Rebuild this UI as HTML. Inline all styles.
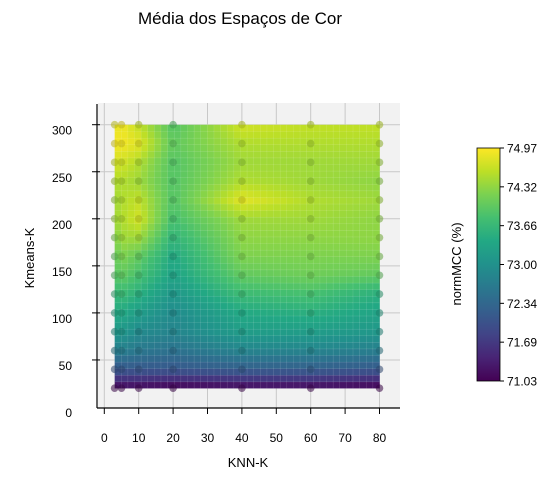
<!DOCTYPE html>
<html><head><meta charset="utf-8"><style>
html,body{margin:0;padding:0;background:#fff;}
svg{display:block;font-family:"Liberation Sans",sans-serif;}
</style></head><body>
<svg id="chart" width="558" height="504" viewBox="0 0 558 504">
<defs>
<linearGradient id="cbgrad" x1="0" y1="1" x2="0" y2="0">
<stop offset="0" stop-color="#440154"/><stop offset="0.1" stop-color="#482475"/><stop offset="0.2" stop-color="#414487"/><stop offset="0.3" stop-color="#355f8d"/><stop offset="0.4" stop-color="#2a788e"/><stop offset="0.5" stop-color="#21918c"/><stop offset="0.6" stop-color="#22a884"/><stop offset="0.7" stop-color="#44bf70"/><stop offset="0.8" stop-color="#7ad151"/><stop offset="0.9" stop-color="#bddf26"/><stop offset="1" stop-color="#fde725"/>
</linearGradient>
</defs>
<text x="240" y="24" text-anchor="middle" font-size="17">Média dos Espaços de Cor</text>
<rect x="98" y="103" width="302" height="305" fill="#f2f2f2"/>
<g id="grid"></g>
<g id="surface"></g>
<g id="points"></g>
<g id="axes"></g>
<text x="248" y="467" text-anchor="middle" font-size="13">KNN-K</text>
<text x="34" y="258" text-anchor="middle" font-size="13" transform="rotate(-90 34 258)">Kmeans-K</text>
<rect x="477" y="148" width="23" height="233" fill="url(#cbgrad)" stroke="#000" stroke-width="0.8"/>
<g id="cbticks"></g>
<text x="461" y="264" text-anchor="middle" font-size="13" transform="rotate(-90 461 264)">normMCC (%)</text>
</svg>
<script>
const knnK = [3,5,10,20,40,60,80];
const kmeansK = [300,280,260,240,220,200,180,160,140,120,100,80,60,40,20];
const mccValues = [
[74.8,74.9,74.6,73.9,74.7,74.6,74.6],
[74.9,74.9,74.8,74.0,74.5,74.5,74.5],
[74.7,74.7,74.5,73.9,74.4,74.4,74.4],
[74.5,74.5,74.4,73.9,74.5,74.4,74.3],
[74.4,74.5,74.6,73.9,74.8,74.5,74.4],
[74.4,74.5,74.7,73.8,74.4,74.4,74.3],
[74.2,74.4,74.4,73.6,74.3,74.3,74.3],
[74.0,74.2,74.0,73.4,74.2,74.2,74.2],
[73.9,74.0,73.8,73.3,74.0,74.1,74.0],
[73.6,73.7,73.5,73.1,73.7,73.8,73.5],
[73.4,73.4,73.2,72.9,73.4,73.5,73.3],
[73.1,73.1,72.9,72.8,73.2,73.2,73.1],
[72.7,72.7,72.6,72.5,72.8,72.8,72.7],
[72.1,72.1,72.1,72.1,72.2,72.2,72.1],
[71.1,71.1,71.1,71.0,71.1,71.1,71.0]];
const xTicks = [0,10,20,30,40,50,60,70,80];
const yTicks = [0,50,100,150,200,250,300];
const cbTicks = ["71.03","71.69","72.34","73.00","73.66","74.32","74.97"];
const vmin = 71.03, vmax = 74.97;

const NS="http://www.w3.org/2000/svg";
const X = v => 104.3 + v*3.44;
const Y = v => 407 - v*0.941;
const VIR = [[68,1,84],[72,36,117],[65,68,135],[53,95,141],[42,120,142],[33,145,140],[34,168,132],[68,191,112],[122,209,81],[189,223,38],[253,231,37]];
function vir(t){t=Math.max(0,Math.min(1,t))*10;const i=Math.min(9,Math.floor(t)),f=t-i;const a=VIR[i],b=VIR[i+1];return [0,1,2].map(k=>Math.round(a[k]+(b[k]-a[k])*f));}
function mk(tag,attrs,parent){const e=document.createElementNS(NS,tag);for(const k in attrs)e.setAttribute(k,attrs[k]);parent.appendChild(e);return e;}
const grid=document.getElementById('grid'),surf=document.getElementById('surface'),pts=document.getElementById('points'),axes=document.getElementById('axes'),cbt=document.getElementById('cbticks');

xTicks.forEach(t=>{
  const l=mk('line',{x1:X(t),x2:X(t),y1:103,y2:408,stroke:'#c8c8c8','stroke-width':1},grid);
  
  const tk=mk('line',{x1:X(t),x2:X(t),y1:408,y2:414,stroke:'#000','stroke-width':1},axes);
  
  const tx=mk('text',{x:X(t),y:442,'text-anchor':'middle','font-size':12},axes);tx.textContent=t;
  
});
yTicks.forEach(t=>{
  if(t>0){const l=mk('line',{x1:98,x2:400,y1:Y(t),y2:Y(t),stroke:'#c8c8c8','stroke-width':1},grid);
  
  const tk=mk('line',{x1:92,x2:100,y1:Y(t),y2:Y(t),stroke:'#000','stroke-width':1},axes);
  }
  const tx=mk('text',{x:72,y:Y(t)+10,'text-anchor':'end','font-size':12},axes);tx.textContent=t;
  
});
mk('line',{x1:97,x2:97,y1:104,y2:408,stroke:'#000','stroke-width':1.2},axes);
mk('line',{x1:97,x2:400,y1:408,y2:408,stroke:'#000','stroke-width':1.2},axes);

function valAt(xv,yv){
  let i=0;while(i<knnK.length-2&&xv>knnK[i+1])i++;
  let j=0;while(j<kmeansK.length-2&&yv<kmeansK[j+1])j++;
  const fx=(xv-knnK[i])/(knnK[i+1]-knnK[i]),fy=(kmeansK[j]-yv)/(kmeansK[j]-kmeansK[j+1]);
  const a=mccValues[j][i],b=mccValues[j][i+1],c=mccValues[j+1][i],d=mccValues[j+1][i+1];
  return a*(1-fx)*(1-fy)+b*fx*(1-fy)+c*(1-fx)*fy+d*fx*fy;
}
const NX=40,NY=40,x0=knnK[0],x1=knnK[knnK.length-1],y0=kmeansK[kmeansK.length-1],y1=kmeansK[0];
for(let a=0;a<NX;a++)for(let b=0;b<NY;b++){
  const xa=x0+(x1-x0)*a/NX,xb=x0+(x1-x0)*(a+1)/NX,ya=y0+(y1-y0)*b/NY,yb=y0+(y1-y0)*(b+1)/NY;
  const v=valAt((xa+xb)/2,(ya+yb)/2),c=vir((v-vmin)/(vmax-vmin));
  const r=mk('rect',{x:X(xa),y:Y(yb),width:X(xb)-X(xa)+0.3,height:Y(ya)-Y(yb)+0.3,fill:`rgb(${c})`,stroke:'rgba(255,255,255,0.18)','stroke-width':0.5},surf);
  
}
kmeansK.forEach((yv,j)=>knnK.forEach((xv,i)=>{
  const v=mccValues[j][i],c=vir((v-vmin)/(vmax-vmin)).map(k=>Math.round(k*0.78));
  const p=mk('circle',{cx:X(xv),cy:Y(yv),r:3.8,fill:`rgb(${c})`,'fill-opacity':0.55},pts);
  
}));
cbTicks.forEach((t,k)=>{
  const y=381-k*233/(cbTicks.length-1);
  mk('line',{x1:500,x2:504,y1:y,y2:y,stroke:'#000','stroke-width':1},cbt);
  const tx=mk('text',{x:507,y:y+4.5,'font-size':12},cbt);tx.textContent=t;
  
});
</script>
</body></html>
